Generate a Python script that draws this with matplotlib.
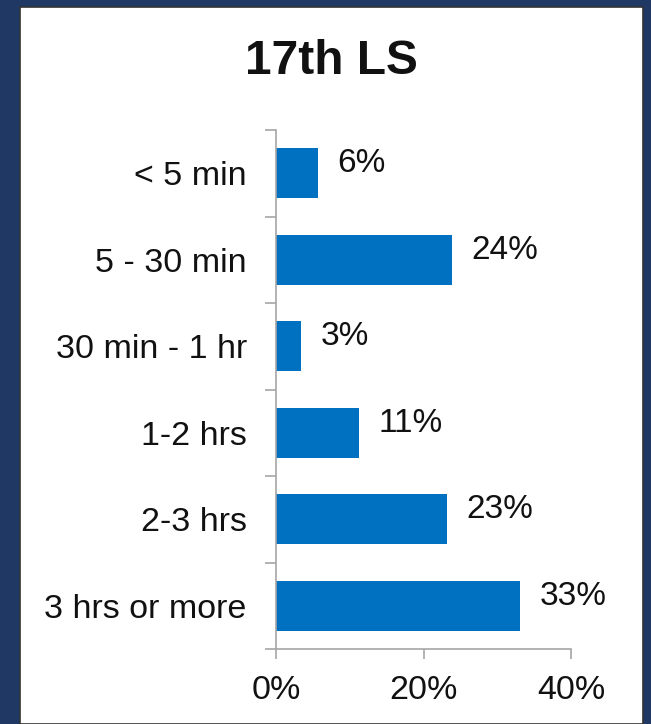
import matplotlib.pyplot as plt
from matplotlib.patches import Rectangle
from matplotlib.ticker import FixedLocator, PercentFormatter

plt.rcParams['font.family'] = ['Liberation Sans', 'DejaVu Sans']

categories = ["< 5 min", "5 - 30 min", "30 min - 1 hr", "1-2 hrs", "2-3 hrs", "3 hrs or more"]
values = [5.7, 23.9, 3.4, 11.3, 23.2, 33.1]
labels = ["6%", "24%", "3%", "11%", "23%", "33%"]

navy = "#1F3864"
bar_color = "#0070C0"
axis_gray = "#A6A6A6"

fig = plt.figure(figsize=(6.51, 7.24), dpi=100, facecolor=navy)

# white panel inside the navy frame
panel = Rectangle((20 / 651, 0), 623 / 651, 1 - 7 / 724, transform=fig.transFigure,
                  facecolor="white", edgecolor="#333333", linewidth=1.2, zorder=-1)
fig.patches.append(panel)

ax = fig.add_axes([276 / 651, 1 - 649 / 724, 295 / 651, 519 / 724])
ax.set_facecolor("none")
ax.set_zorder(1)

pos = list(range(len(categories)))
ax.barh(pos, values, height=0.58, color=bar_color, zorder=2)

for y, v, lab in zip(pos, values, labels):
    ax.annotate(lab, xy=(v, y), xytext=(14, 7), textcoords="offset points",
                ha="left", va="center", fontsize=24, color="#111111")

ax.set_xlim(0, 40)
ax.set_ylim(len(categories) - 0.5, -0.5)

ax.set_yticks(pos)
ax.set_yticklabels(categories, fontsize=24.5, color="#111111")
ax.yaxis.set_minor_locator(FixedLocator([i - 0.5 for i in range(len(categories) + 1)]))
ax.tick_params(axis="y", which="major", length=0, pad=21)
ax.tick_params(axis="y", which="minor", length=8, width=1.2, color=axis_gray, direction="out")

ax.set_xticks([0, 20, 40])
ax.xaxis.set_major_formatter(PercentFormatter(decimals=0))
ax.tick_params(axis="x", which="major", length=7.5, width=1.2, color=axis_gray,
               labelsize=24.5, labelcolor="#111111", pad=11)

for side in ["top", "right"]:
    ax.spines[side].set_visible(False)
for side in ["left", "bottom"]:
    ax.spines[side].set_color(axis_gray)
    ax.spines[side].set_linewidth(1.2)

fig.text(331 / 651, 1 - 62 / 724, "17th LS", ha="center", va="center",
         fontsize=34.5, fontweight="bold", color="#111111")

fig.savefig("out.png", dpi=100, facecolor=navy)
